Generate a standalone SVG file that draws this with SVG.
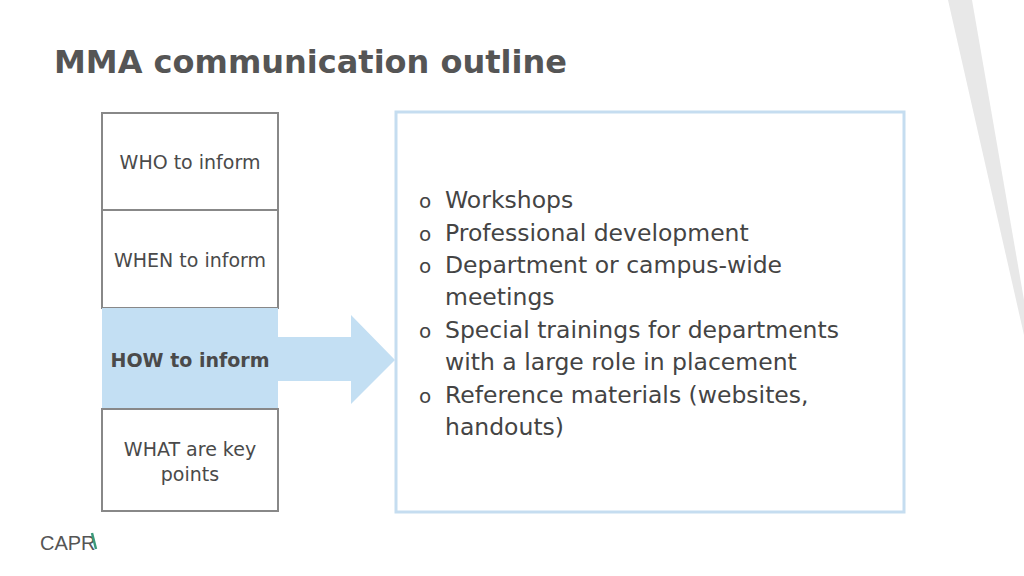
<svg xmlns="http://www.w3.org/2000/svg" width="1024" height="576" viewBox="0 0 1024 576">
<style>
.box{fill:#fff;stroke:#888;stroke-width:2}
.lbl{font-family:"DejaVu Sans",sans-serif;font-size:19px;fill:#4a4a4a;text-anchor:middle}
.b{font-family:"DejaVu Sans",sans-serif;font-size:23.5px;fill:#444}
.o{font-family:"DejaVu Sans",sans-serif;font-size:20px;fill:#444}
</style>
<rect width="1024" height="576" fill="#fff"/>
<polygon points="948,0 972,0 1024,300 1024,335" fill="#e8e8e8"/>
<text x="54" y="73" font-family="DejaVu Sans,sans-serif" font-weight="bold" font-size="32" fill="#555">MMA communication outline</text>
<g id="who"><rect class="box" x="102" y="113" width="176" height="97"/><text class="lbl" x="190" y="169">WHO to inform</text></g>
<g id="when"><rect class="box" x="102" y="210" width="176" height="98"/><text class="lbl" x="190" y="267">WHEN to inform</text></g>
<g id="how"><rect x="102" y="308" width="176" height="101" fill="#c3dff3"/><text class="lbl" x="190" y="367" font-weight="bold">HOW to inform</text></g>
<g id="what"><rect class="box" x="102" y="409" width="176" height="102"/><text class="lbl" x="190" y="456">WHAT are key</text><text class="lbl" x="190" y="481">points</text></g>
<g id="connectors"><polygon points="278,337 351,337 351,315 395,360 351,404 351,381 278,381" fill="#c3dff3"/></g>
<g id="content"><rect x="396" y="112" width="508" height="400" fill="#fff" stroke="#c5ddf0" stroke-width="3"/>
<text class="o" x="419" y="208">o</text><text class="b" x="445" y="208">Workshops</text>
<text class="o" x="419" y="241">o</text><text class="b" x="445" y="241">Professional development</text>
<text class="o" x="419" y="273">o</text><text class="b" x="445" y="273">Department or campus-wide</text>
<text class="b" x="445" y="305">meetings</text>
<text class="o" x="419" y="338">o</text><text class="b" x="445" y="338">Special trainings for departments</text>
<text class="b" x="445" y="370">with a large role in placement</text>
<text class="o" x="419" y="403">o</text><text class="b" x="445" y="403">Reference materials (websites,</text>
<text class="b" x="445" y="435">handouts)</text></g>
<text x="40" y="550" font-family="Liberation Sans Narrow,Liberation Sans,sans-serif" font-size="20" fill="#555">CAPR</text>
<line x1="92" y1="533" x2="96" y2="549" stroke="#3a9a7a" stroke-width="2.5"/>
</svg>
